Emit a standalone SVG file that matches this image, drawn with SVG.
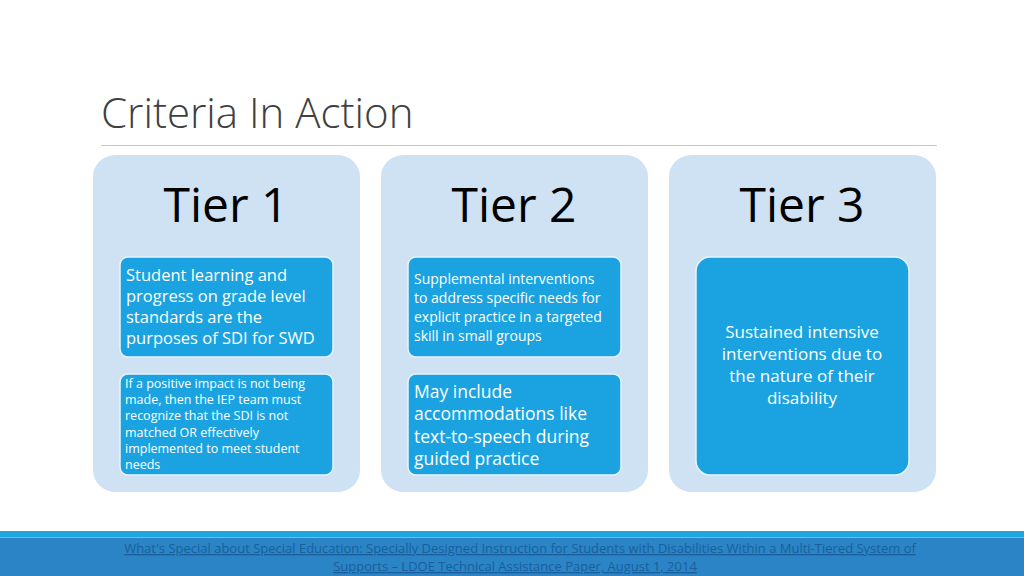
<svg xmlns="http://www.w3.org/2000/svg" width="1024" height="576" viewBox="0 0 1024 576">
<style>
.panel{fill:#cfe2f3}
.box{fill:#1aa3e0;stroke:#e8f3fb;stroke-width:1.5}
.tier{font-family:"Open Sans","Liberation Sans",sans-serif;font-size:48px;fill:#000;text-anchor:middle}
.t{font-family:"Open Sans","Liberation Sans",sans-serif;fill:#fff}
.foot{font-family:"Open Sans","Liberation Sans",sans-serif;font-size:13px;fill:#1a5f9c;text-anchor:middle;text-decoration:underline}
</style>
<rect width="1024" height="576" fill="#fff"/>
<text x="101" y="128" font-family="Open Sans,Liberation Sans,sans-serif" font-size="42" fill="#404040" font-weight="300">Criteria In Action</text>
<line x1="101" y1="145.5" x2="937" y2="145.5" stroke="#c8c8c8" stroke-width="1"/>
<g id="tier1">
<rect class="panel" x="93" y="155" width="267" height="337" rx="22"/>
<text class="tier" x="226" y="222">Tier 1</text>
<rect class="box" x="120" y="257" width="213" height="100" rx="8"/>
<text class="t" font-size="16.5"><tspan x="126" y="281">Student learning and</tspan><tspan x="126" y="302">progress on grade level</tspan><tspan x="126" y="323">standards are the</tspan><tspan x="126" y="344">purposes of SDI for SWD</tspan></text>
<rect class="box" x="120" y="374" width="213" height="101" rx="8"/>
<text class="t" font-size="12.5"><tspan x="125" y="388">If a positive impact is not being</tspan><tspan x="125" y="404">made, then the IEP team must</tspan><tspan x="125" y="420">recognize that the SDI is not</tspan><tspan x="125" y="437">matched OR effectively</tspan><tspan x="125" y="453">implemented to meet student</tspan><tspan x="125" y="469">needs</tspan></text>
</g>
<g id="tier2">
<rect class="panel" x="381" y="155" width="267" height="337" rx="22"/>
<text class="tier" x="514" y="222">Tier 2</text>
<rect class="box" x="408" y="257" width="213" height="100" rx="8"/>
<text class="t" font-size="14"><tspan x="414" y="284">Supplemental interventions</tspan><tspan x="414" y="303">to address specific needs for</tspan><tspan x="414" y="322">explicit practice in a targeted</tspan><tspan x="414" y="341">skill in small groups</tspan></text>
<rect class="box" x="408" y="374" width="213" height="101" rx="8"/>
<text class="t" font-size="17.5"><tspan x="414" y="398">May include</tspan><tspan x="414" y="420">accommodations like</tspan><tspan x="414" y="443">text-to-speech during</tspan><tspan x="414" y="465">guided practice</tspan></text>
</g>
<g id="tier3">
<rect class="panel" x="669" y="155" width="267" height="337" rx="22"/>
<text class="tier" x="802" y="222">Tier 3</text>
<rect class="box" x="696" y="257" width="213" height="218" rx="14"/>
<text class="t" font-size="17" text-anchor="middle"><tspan x="802" y="338">Sustained intensive</tspan><tspan x="802" y="360">interventions due to</tspan><tspan x="802" y="382">the nature of their</tspan><tspan x="802" y="404">disability</tspan></text>
</g>
<rect x="0" y="531" width="1024" height="7" fill="#1fa6dc"/>
<rect x="0" y="537" width="1024" height="39" fill="#2a84c6"/>
<line x1="0" y1="537.5" x2="1024" y2="537.5" stroke="#5cc3ea" stroke-width="1"/>
<text class="foot"><tspan x="520" y="553">What's Special about Special Education: Specially Designed Instruction for Students with Disabilities Within a Multi-Tiered System of</tspan><tspan x="515" y="571">Supports – LDOE Technical Assistance Paper, August 1, 2014</tspan></text>
</svg>
